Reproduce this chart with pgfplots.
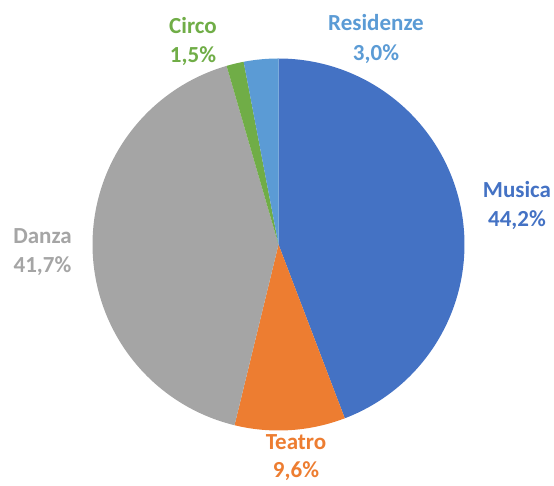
\documentclass[border=0pt]{standalone}
\usepackage{pgfplots}
\pgfplotsset{compat=1.18}
\usepackage{pgfplotstable}
\usepackage{fontspec}
\setmainfont{Carlito}
\definecolor{cMus}{HTML}{4472C4}
\definecolor{cTea}{HTML}{ED7D31}
\definecolor{cDan}{HTML}{A5A5A5}
\definecolor{cCir}{HTML}{70AD47}
\definecolor{cRes}{HTML}{5B9BD5}
% shares (percent), clockwise from 12 o'clock
\pgfplotstableread{
name      value
Musica    44.2
Teatro    9.6
Danza     41.7
Circo     1.5
Residenze 3.0
}\piedata
\pgfplotstablegetelem{0}{value}\of\piedata \let\vA\pgfplotsretval
\pgfplotstablegetelem{1}{value}\of\piedata \let\vB\pgfplotsretval
\pgfplotstablegetelem{2}{value}\of\piedata \let\vC\pgfplotsretval
\pgfplotstablegetelem{3}{value}\of\piedata \let\vD\pgfplotsretval
\pgfplotstablegetelem{4}{value}\of\piedata \let\vE\pgfplotsretval
\pgfmathsetmacro\aA{90}
\pgfmathsetmacro\aB{\aA-3.6*\vA}
\pgfmathsetmacro\aC{\aB-3.6*\vB}
\pgfmathsetmacro\aD{\aC-3.6*\vC}
\pgfmathsetmacro\aE{\aD-3.6*\vD}
\pgfmathsetmacro\aF{\aE-3.6*\vE}
\def\cx{278.5}
\def\cy{241.5}
\def\R{186}
\begin{document}
\begin{tikzpicture}
\begin{axis}[
  at={(0,0)}, anchor=south west,
  scale only axis, width=554pt, height=486pt,
  xmin=0, xmax=554, ymin=0, ymax=486,
  hide axis, clip=false,
  samples=120,
]
\addplot[fill=cMus, draw=none, domain=\aB:\aA] ({\cx+\R*cos(x)},{\cy+\R*sin(x)}) -- (axis cs:\cx,\cy) -- cycle;
\addplot[fill=cTea, draw=none, domain=\aC:\aB] ({\cx+\R*cos(x)},{\cy+\R*sin(x)}) -- (axis cs:\cx,\cy) -- cycle;
\addplot[fill=cDan, draw=none, domain=\aD:\aC] ({\cx+\R*cos(x)},{\cy+\R*sin(x)}) -- (axis cs:\cx,\cy) -- cycle;
\addplot[fill=cCir, draw=none, domain=\aE:\aD, samples=10] ({\cx+\R*cos(x)},{\cy+\R*sin(x)}) -- (axis cs:\cx,\cy) -- cycle;
\addplot[fill=cRes, draw=none, domain=\aF:\aE, samples=20] ({\cx+\R*cos(x)},{\cy+\R*sin(x)}) -- (axis cs:\cx,\cy) -- cycle;
\begin{scope}[font=\fontsize{23}{28}\selectfont\bfseries, inner sep=0pt]
\node[cMus, anchor=base] at (axis cs:517,288) {Musica};
\node[cMus, anchor=base] at (axis cs:517,259) {44,2\%};
\node[cTea, anchor=base] at (axis cs:296,36) {Teatro};
\node[cTea, anchor=base] at (axis cs:296,8) {9,6\%};
\node[cDan, anchor=base] at (axis cs:42.5,242) {Danza};
\node[cDan, anchor=base] at (axis cs:42.5,213) {41,7\%};
\node[cCir, anchor=base] at (axis cs:193,452) {Circo};
\node[cCir, anchor=base] at (axis cs:193,423) {1,5\%};
\node[cRes, anchor=base] at (axis cs:376,455) {Residenze};
\node[cRes, anchor=base] at (axis cs:376,425) {3,0\%};
\end{scope}
\end{axis}
\pgfresetboundingbox
\path[use as bounding box] (0,0) rectangle (554pt,486pt);
\end{tikzpicture}
\end{document}
